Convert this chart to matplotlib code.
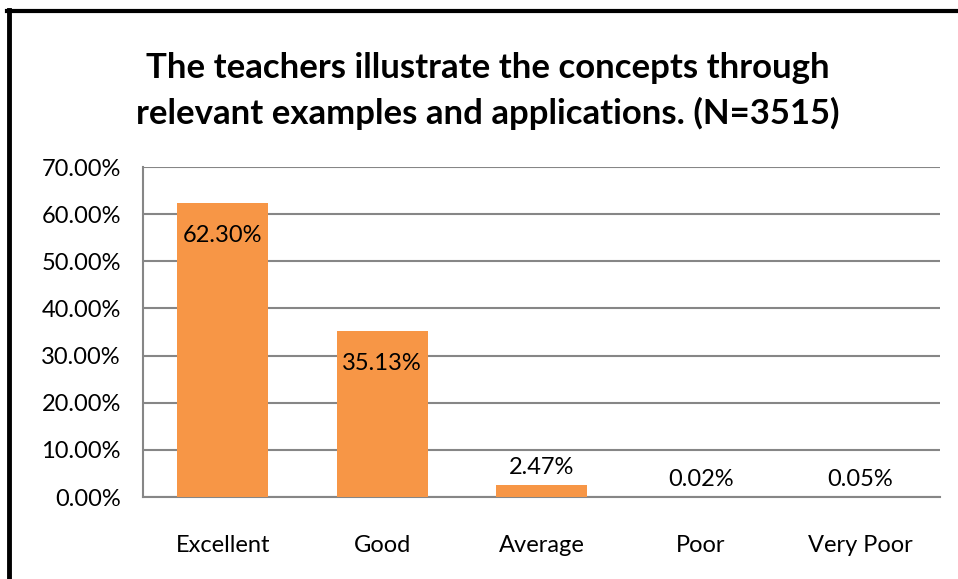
import matplotlib.pyplot as plt
from matplotlib.ticker import FuncFormatter, MultipleLocator

# Data
categories = ["Excellent", "Good", "Average", "Poor", "Very Poor"]
percentages = [62.30, 35.13, 2.47, 0.02, 0.05]
labels = ["62.30%", "35.13%", "2.47%", "0.02%", "0.05%"]

plt.rcParams["font.family"] = ["Lato", "DejaVu Sans"]

fig = plt.figure(figsize=(9.58, 5.79), dpi=100)
ax = fig.add_axes([143 / 958, 1 - 497 / 579, (940 - 143) / 958, (497 - 167) / 579])

x = range(len(categories))
ax.bar(x, percentages, width=0.57, color="#F79646", zorder=3)

for i, (v, lab) in enumerate(zip(percentages, labels)):
    if v > 10:
        ax.text(i, v - 4.6, lab, ha="center", va="top", fontsize=17, color="black", zorder=4)
    else:
        ax.text(i, v + 1.5, lab, ha="center", va="bottom", fontsize=17, color="black", zorder=4)

ax.set_xlim(-0.5, 4.5)
ax.set_ylim(0, 70)
ax.yaxis.set_major_locator(MultipleLocator(10))
ax.yaxis.set_major_formatter(FuncFormatter(lambda v, p: f"{v:.2f}%"))
ax.set_xticks(list(x))
ax.set_xticklabels(categories)
ax.tick_params(axis="both", length=0, labelsize=17, colors="black")
ax.tick_params(axis="y", pad=16)
ax.tick_params(axis="x", pad=27)

ax.grid(axis="y", color="#868686", linewidth=1.5, zorder=0)
for s in ["top", "right"]:
    ax.spines[s].set_visible(False)
ax.spines["left"].set_color("#868686")
ax.spines["left"].set_linewidth(1.5)
ax.spines["bottom"].set_color("#868686")
ax.spines["bottom"].set_linewidth(1.5)

fig.text(488 / 958, 1 - 91 / 579,
         "The teachers illustrate the concepts through\nrelevant examples and applications. (N=3515)",
         ha="center", va="center", fontsize=25, fontweight="bold", linespacing=1.5)

# outer border (left and top visible)
fig.add_artist(plt.Line2D([9 / 958, 9 / 958], [0, 1 - 10 / 579], color="black", linewidth=3.5,
                          transform=fig.transFigure))
fig.add_artist(plt.Line2D([7 / 958, 1], [1 - 10.5 / 579, 1 - 10.5 / 579], color="black", linewidth=3,
                          transform=fig.transFigure))

fig.savefig("out.png", dpi=100)
